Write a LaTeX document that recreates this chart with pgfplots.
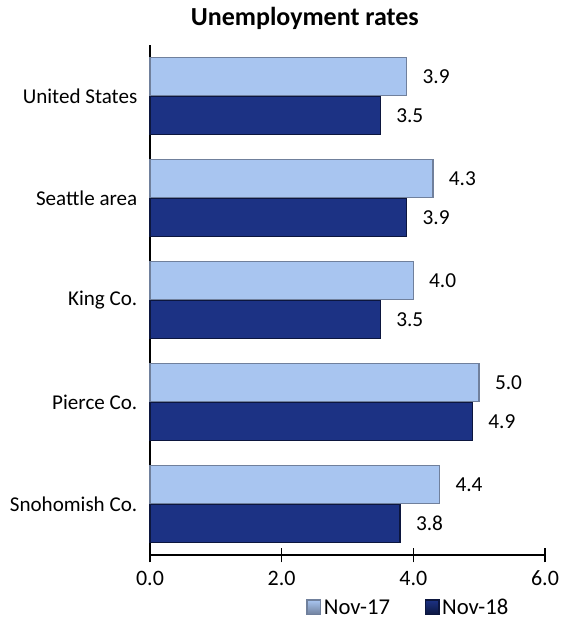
\documentclass[border=0pt]{standalone}
\usepackage{pgfplots}
\pgfplotsset{compat=1.18}
\usepackage{fontspec}
\setmainfont{Carlito}
\definecolor{lightmain}{RGB}{168,197,240}
\definecolor{lightedge}{RGB}{112,128,156}
\definecolor{darkmain}{RGB}{28,50,132}
\definecolor{darkedge}{RGB}{12,22,62}
\begin{document}
\begin{tikzpicture}
\useasboundingbox (-112.5pt,-56.25pt) rectangle (308.25pt,416.25pt);
\begin{axis}[
  scale only axis,
  width=296.25pt, height=382.5pt,
  at={(0,0)}, anchor=south west,
  xbar, bar width=0.375,
  xmin=0, xmax=6,
  ymin=-0.5, ymax=4.5,
  xtick={0,2,4,6},
  xticklabels={0.0,2.0,4.0,6.0},
  ytick={0,1,2,3,4},
  yticklabels={Snohomish Co.,Pierce Co.,King Co.,Seattle area,United States},
  axis x line*=bottom, axis y line*=left,
  axis line style={black, line width=0.9pt},
  x axis line style={-}, y axis line style={-},
  xtick align=center,
  major tick length=11pt,
  xtick style={black, line width=0.9pt},
  ytick style={draw=none},
  xticklabel style={yshift=-3pt, font=\fontsize{16.5}{19}\selectfont},
  yticklabel style={xshift=5pt, font=\fontsize{15.8}{19}\selectfont},
  /pgf/number format/assume math mode=true,
  title={\textbf{Unemployment rates}},
  title style={at={(0.392,1.037)}, anchor=center, font=\fontsize{19.5}{23}\selectfont},
  nodes near coords,
  nodes near coords style={font=\fontsize{16}{19}\selectfont, anchor=west, xshift=8pt, black,
    /pgf/number format/.cd, fixed, fixed zerofill, precision=1},
  legend style={at={(0.655,-0.104)}, anchor=center, draw=none, legend columns=2,
    font=\fontsize{17}{20}\selectfont,
    /tikz/every even column/.append style={column sep=24pt}},
  clip=false,
]
\addplot[bar shift=0.19, draw=lightedge, line width=1.1pt, fill=lightmain,
  legend image code/.code={\fill[top color=lightmain, bottom color=lightedge, draw=lightedge] (0pt,-5pt) rectangle (10pt,6pt);}]
  coordinates {(4.4,0) (5.0,1) (4.0,2) (4.3,3) (3.9,4)};
\addlegendentry{Nov-17}
\addplot[bar shift=-0.19, draw=darkedge, line width=1.1pt, fill=darkmain,
  legend image code/.code={\fill[top color=darkmain, bottom color=darkedge, draw=darkedge] (0pt,-5pt) rectangle (10pt,6pt);}]
  coordinates {(3.8,0) (4.9,1) (3.5,2) (3.9,3) (3.5,4)};
\addlegendentry{Nov-18}
\end{axis}
\end{tikzpicture}
\end{document}
